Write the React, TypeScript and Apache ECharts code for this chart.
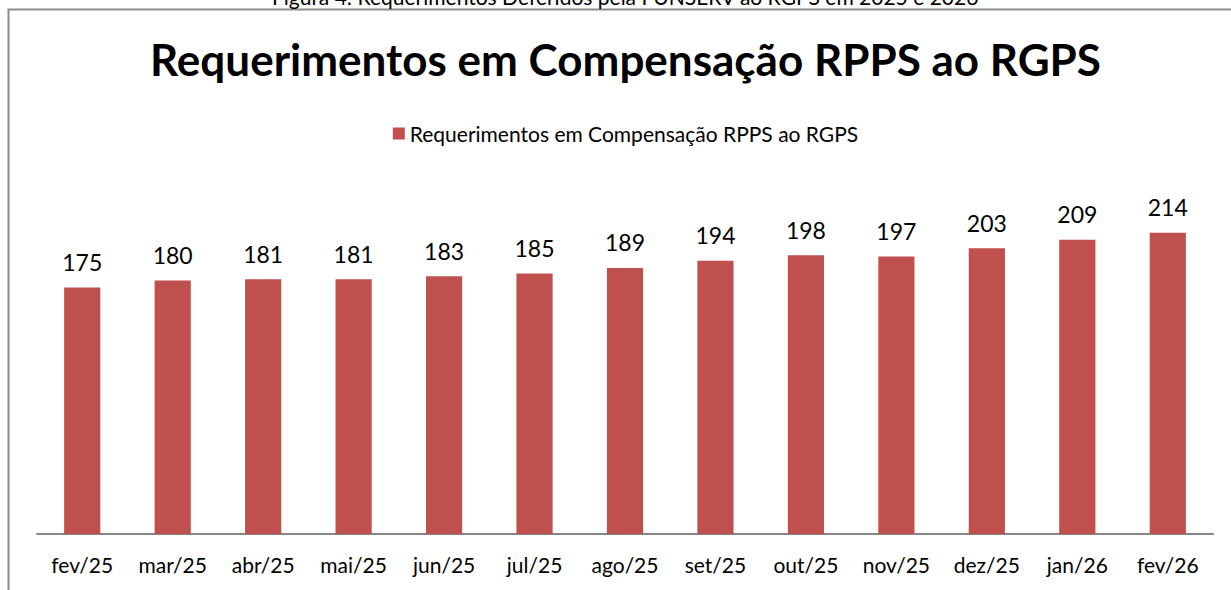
import React, { useEffect, useRef } from "react";
import * as echarts from "echarts";

const categories = ["fev/25", "mar/25", "abr/25", "mai/25", "jun/25", "jul/25", "ago/25", "set/25", "out/25", "nov/25", "dez/25", "jan/26", "fev/26"];
const values = [175, 180, 181, 181, 183, 185, 189, 194, 198, 197, 203, 209, 214];
const seriesName = "Requerimentos em Compensação RPPS ao RGPS";
const titleText = "Requerimentos em Compensação RPPS ao RGPS";
const captionText = "Figura 4: Requerimentos Deferidos pela FUNSERV ao RGPS em 2025 e 2026";

const FONT = "Lato, 'Open Sans', sans-serif";

export default function App() {
  const ref = useRef<HTMLDivElement>(null);
  useEffect(() => {
    if (!ref.current) return;
    const chart = echarts.init(ref.current, null, { renderer: "svg" });
    chart.setOption({
      animation: false,
      backgroundColor: "#ffffff",
      textStyle: { fontFamily: FONT },
      title: {
        text: titleText,
        left: "center",
        top: 32,
        textStyle: { fontSize: 44, fontWeight: "bold", color: "#000", fontFamily: FONT },
      },
      legend: {
        top: 118,
        left: "center",
        itemWidth: 12,
        itemHeight: 12,
        icon: "rect",
        itemGap: 8,
        textStyle: { fontSize: 21, color: "#000", fontFamily: FONT },
        data: [seriesName],
      },
      graphic: [
        {
          type: "text",
          left: "center",
          top: -14,
          style: { text: captionText, fontSize: 21, fill: "#000", fontFamily: FONT },
          silent: true,
        },
        {
          type: "rect",
          shape: { x: 8.5, y: 9.5, width: 1236, height: 600 },
          style: { fill: "none", stroke: "#8c8c8c", lineWidth: 2 },
          silent: true,
          z: -1,
        },
      ],
      grid: { left: 37, right: 38, top: 182, bottom: 56, containLabel: false },
      xAxis: {
        type: "category",
        data: categories,
        axisLine: { lineStyle: { color: "#868686", width: 2 } },
        axisTick: { show: false },
        axisLabel: { fontSize: 21, color: "#000", margin: 20, fontFamily: FONT, interval: 0 },
      },
      yAxis: {
        type: "value",
        min: 0,
        max: 250,
        show: false,
        splitLine: { show: false },
      },
      series: [
        {
          name: seriesName,
          type: "bar",
          data: values,
          barWidth: "40%",
          itemStyle: { color: "#c0504d" },
          label: {
            show: true,
            position: "top",
            distance: 14,
            fontSize: 23,
            color: "#000",
            fontFamily: FONT,
          },
        },
      ],
    });
    return () => chart.dispose();
  }, []);
  return (
    <div
      ref={ref}
      style={{ position: "fixed", left: 0, top: 0, width: 1251, height: 590 }}
    />
  );
}
